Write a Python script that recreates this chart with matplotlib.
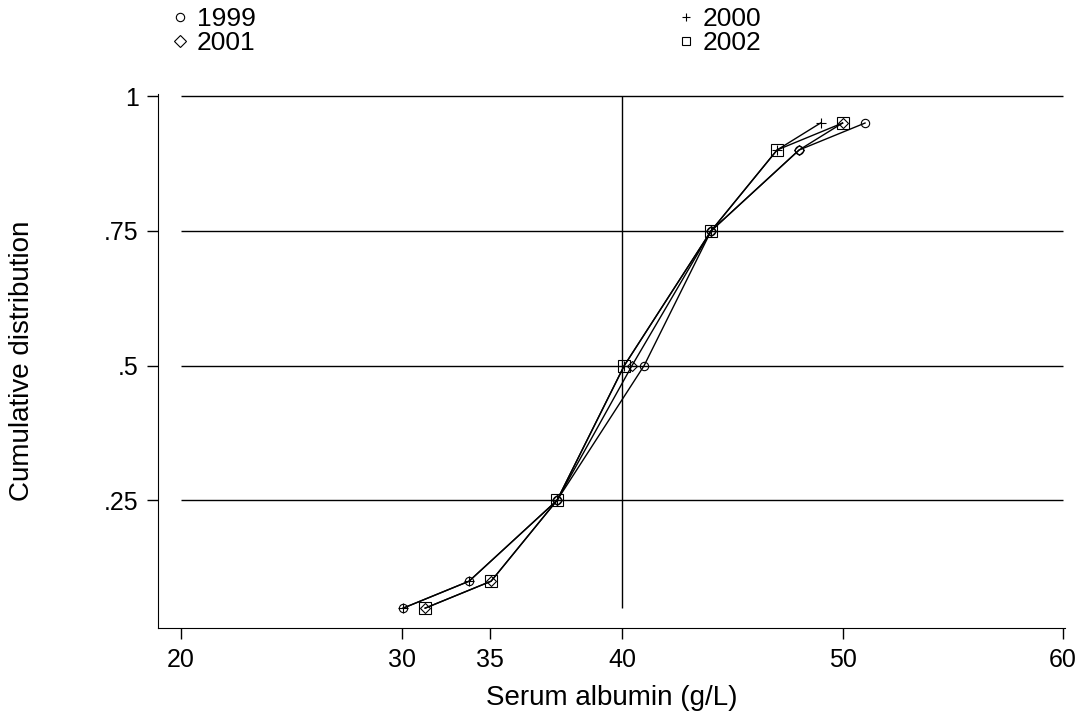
import matplotlib.pyplot as plt

plt.rcParams['font.family'] = ['Liberation Sans', 'DejaVu Sans']

cum = [0.05, 0.10, 0.25, 0.50, 0.75, 0.90, 0.95]
alb_1999 = [30.07, 33.06, 37.05, 41.0, 44.04, 48.03, 51.02]
alb_2000 = [30.07, 33.06, 37.05, 40.1, 44.04, 47.03, 49.0]
alb_2001 = [31.07, 34.06, 37.05, 40.45, 44.04, 48.03, 50.0]
alb_2002 = [31.07, 34.06, 37.05, 40.1, 44.04, 47.03, 50.0]

xticks = [20, 30, 34, 40, 50, 60]
xlabels = ['20', '30', '35', '40', '50', '60']
yticks = [0.25, 0.5, 0.75, 1.0]
ylabels = ['.25', '.5', '.75', '1']

fig = plt.figure(figsize=(10.76, 7.17), dpi=100)
ax = fig.add_axes([0.147, 0.124, 0.843, 0.745])

# grid lines and reference line at 40
ax.hlines(yticks, 20, 60, color='black', lw=1)
ax.vlines(40, 0.05, 1.0, color='black', lw=1)

l99, = ax.plot(alb_1999, cum, color='black', lw=1, marker='o', ms=6, mfc='none', mec='black', mew=0.8, label='1999')
l00, = ax.plot(alb_2000, cum, color='black', lw=1, marker='+', ms=7, mec='black', mew=0.8, label='2000')
l01, = ax.plot(alb_2001, cum, color='black', lw=1, marker='D', ms=5, mfc='none', mec='black', mew=0.8, label='2001')
l02, = ax.plot(alb_2002, cum, color='black', lw=1, marker='s', ms=9, mfc='none', mec='black', mew=0.8, label='2002')

ax.set_xlim(18.96, 60.1)
ax.set_ylim(0.013, 1.004)
ax.set_xticks(xticks)
ax.set_xticklabels(xlabels, fontsize=18)
ax.set_yticks(yticks)
ax.set_yticklabels(ylabels, fontsize=18)
ax.tick_params(length=8, width=1, pad=6)
ax.spines['top'].set_visible(False)
ax.spines['right'].set_visible(False)
ax.set_xlabel('Serum albumin (g/L)', fontsize=20, labelpad=10)
ax.set_ylabel('Cumulative distribution', fontsize=20, labelpad=50)

# column-major order so rows read 1999 2000 / 2001 2002
handles = [l99, l01, l00, l02]
leg = fig.legend(handles, [h.get_label() for h in handles], ncol=2, loc='upper left',
                 bbox_to_anchor=(0.145, 1.012), frameon=False,
                 fontsize=19, handlelength=0.6, handletextpad=0.35, columnspacing=16,
                 labelspacing=0.0, borderpad=0.1)
for h in leg.legend_handles:
    h.set_linestyle('none')
    h.set_markersize(6)

fig.savefig('out.png')
